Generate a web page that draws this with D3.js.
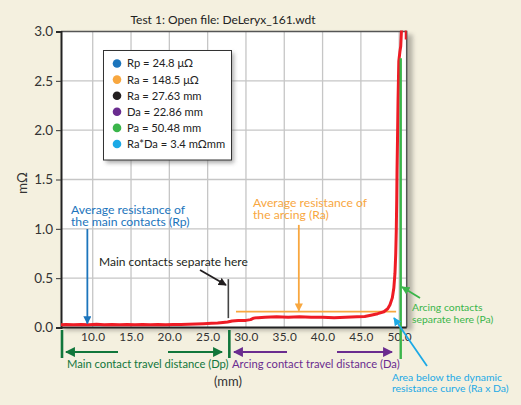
<!DOCTYPE html>
<html>
<head>
<meta charset="utf-8">
<script src="https://cdn.jsdelivr.net/npm/d3@7"></script>
<style>
  body { margin: 0; background: #f4f0df; }
  svg { display: block; font-family: Lato, "Open Sans", sans-serif; }
</style>
</head>
<body>
<div id="canvas"></div>
<script>
const width = 521;
const height = 405;

// the measured dynamic resistance trace (travel mm, mOhm)
const travel = [5.86, 6.5, 7.5, 8.5, 9.5, 10.5, 11.5, 12.5, 13.5, 14.5, 15.5, 16.5, 17.5, 18.5, 19.5,
  20.5, 21.5, 22.5, 23.5, 24.5, 25.5, 26.3, 27.0, 27.6, 28.2, 29.0, 30.0, 30.6, 31.0, 31.6, 32.5,
  34.0, 35.5, 37.0, 38.5, 40.0, 41.5, 43.0, 44.5, 45.5, 46.3, 47.2, 48.0, 48.5, 48.8, 49.1, 49.3,
  49.45, 49.55, 49.62, 49.68, 49.72, 49.78, 49.85, 49.95, 50.1, 50.2, 50.32, 50.92, 50.92];
const resistance = [0.028, 0.030, 0.027, 0.031, 0.029, 0.032, 0.028, 0.030, 0.027, 0.031, 0.029, 0.030, 0.027, 0.030, 0.028,
  0.031, 0.030, 0.033, 0.035, 0.038, 0.042, 0.045, 0.050, 0.055, 0.065, 0.070, 0.072, 0.080, 0.095, 0.100, 0.105,
  0.108, 0.104, 0.110, 0.103, 0.105, 0.100, 0.103, 0.108, 0.112, 0.125, 0.140, 0.160, 0.190, 0.230, 0.300, 0.400,
  0.550, 0.750, 0.980, 1.300, 1.600, 1.900, 2.300, 2.700, 2.800, 2.850, 3.050, 3.050, 2.920];

const xTicks = [10, 15, 20, 25, 30, 35, 40, 45, 50];
const yTicks = [0, 0.5, 1.0, 1.5, 2.0, 2.5, 3.0];

const legendLabels = ["Rp = 24.8 \u03bc\u03a9", "Ra = 148.5 \u03bc\u03a9", "Ra = 27.63 mm",
  "Da = 22.86 mm", "Pa = 50.48 mm", "Ra*Da = 3.4 m\u03a9mm"];
const legendColors = ["#1c75bc", "#f8a73f", "#231f20", "#6a2c8f", "#3ab54a", "#1ba9e6"];

// markers (mm / mOhm)
const rpAt = 9.3;          // blue arrow
const raLevel = 0.16;      // orange average line
const raFrom = 28.7, raTo = 49.6, raArrowAt = 36.9;
const sepAt = 27.7;        // main contacts separate
const paAt = 50.2;         // arcing contacts separate

const svg = d3.select("#canvas")
    .append("svg")
    .attr("width", width)
    .attr("height", height);

const plot = {left: 61, right: 406.7, top: 31.5, bottom: 327.5};

const x = d3.scaleLinear().domain([5.86, 50.98]).range([plot.left, plot.right]);
const y = d3.scaleLinear().domain([0, 3]).range([plot.bottom, plot.top]);

const defs = svg.append("defs");
defs.append("clipPath").attr("id", "clip")
    .append("rect")
    .attr("x", plot.left).attr("y", plot.top - 1)
    .attr("width", plot.right - plot.left).attr("height", plot.bottom - plot.top + 1);
const blur = defs.append("filter").attr("id", "shadow").attr("x", "-20%").attr("y", "-20%")
    .attr("width", "140%").attr("height", "140%");
blur.append("feGaussianBlur").attr("stdDeviation", 2);

function marker(id, color) {
    defs.append("marker")
        .attr("id", id)
        .attr("viewBox", "0 0 10 10")
        .attr("refX", 9).attr("refY", 5)
        .attr("markerWidth", 4.5).attr("markerHeight", 4.5)
        .attr("orient", "auto")
        .append("path")
        .attr("d", "M0,0 L10,5 L0,10 Z")
        .attr("fill", color);
}
marker("a-blue", "#1c75bc");
marker("a-orange", "#f8a73f");
marker("a-black", "#231f20");
marker("a-green", "#3ab54a");
marker("a-dgreen", "#11763b");
marker("a-purple", "#6a2c8f");
marker("a-cyan", "#1ba9e6");

// title
svg.append("text")
    .attr("x", 223).attr("y", 24)
    .attr("text-anchor", "middle")
    .attr("font-size", 12).attr("fill", "#222")
    .text("Test 1: Open file: DeLeryx_161.wdt");

// plot panel with shadow
svg.append("rect")
    .attr("x", plot.left + 3).attr("y", plot.top + 3)
    .attr("width", plot.right - plot.left + 3).attr("height", plot.bottom - plot.top)
    .attr("fill", "#9c9a90").attr("opacity", 0.7)
    .attr("filter", "url(#shadow)");
svg.append("rect")
    .attr("x", plot.left).attr("y", plot.top)
    .attr("width", plot.right - plot.left).attr("height", plot.bottom - plot.top)
    .attr("fill", "#fff");

// grid
svg.append("g").selectAll("line").data(xTicks).join("line")
    .attr("x1", d => x(d)).attr("x2", d => x(d))
    .attr("y1", plot.top).attr("y2", plot.bottom)
    .attr("stroke", "#c6c6c6").attr("stroke-width", 1.3);
svg.append("g").selectAll("line").data(yTicks.slice(1, -1)).join("line")
    .attr("x1", plot.left).attr("x2", plot.right)
    .attr("y1", d => y(d)).attr("y2", d => y(d))
    .attr("stroke", "#c6c6c6").attr("stroke-width", 1.3);

// frame
svg.append("path")
    .attr("d", `M${plot.left},${plot.top}H${plot.right}V${plot.bottom}`)
    .attr("fill", "none").attr("stroke", "#555").attr("stroke-width", 1.5);

// axes
const yAxis = d3.axisLeft(y).tickValues(yTicks).tickFormat(d3.format(".1f")).tickSize(5).tickPadding(3);
const gy = svg.append("g").attr("transform", `translate(${plot.left},0)`).call(yAxis);
gy.select(".domain").attr("stroke", "#222").attr("stroke-width", 2);
gy.selectAll(".tick line").attr("stroke", "#333");
gy.selectAll(".tick text").attr("font-size", 13.5).attr("fill", "#333")
    .attr("font-family", "Lato, 'Open Sans', sans-serif");

const xAxis = d3.axisBottom(x).tickValues(xTicks).tickFormat(d3.format(".1f")).tickSize(0).tickPadding(5);
const gx = svg.append("g").attr("transform", `translate(0,${plot.bottom})`).call(xAxis);
gx.select(".domain").attr("stroke", "#222").attr("stroke-width", 2).attr("d", `M${plot.left},0H${plot.right}`);
gx.selectAll(".tick text").attr("font-size", 11.8).attr("fill", "#333")
    .attr("letter-spacing", 0.3)
    .attr("font-family", "Lato, 'Open Sans', sans-serif");

svg.append("text")
    .attr("transform", "translate(27,183) rotate(-90)")
    .attr("text-anchor", "middle")
    .attr("font-size", 13.5).attr("fill", "#333")
    .text("m\u03a9");

svg.append("text")
    .attr("x", 228).attr("y", 386)
    .attr("text-anchor", "middle")
    .attr("font-size", 13).attr("fill", "#333")
    .text("(mm)");

// orange average line + arrow
svg.append("line")
    .attr("x1", x(raFrom)).attr("x2", x(raTo))
    .attr("y1", y(raLevel)).attr("y2", y(raLevel))
    .attr("stroke", "#f8a73f").attr("stroke-width", 1.8);
svg.append("line")
    .attr("x1", x(raArrowAt)).attr("x2", x(raArrowAt))
    .attr("y1", y(1.04)).attr("y2", y(raLevel) - 1)
    .attr("stroke", "#f8a73f").attr("stroke-width", 1.8)
    .attr("marker-end", "url(#a-orange)");

// the trace
const trace = d3.zip(travel, resistance);
svg.append("path")
    .datum(trace)
    .attr("clip-path", "url(#clip)")
    .attr("fill", "none")
    .attr("stroke", "#ee1c25")
    .attr("stroke-width", 3)
    .attr("stroke-linejoin", "round")
    .attr("d", d3.line().x(d => x(d[0])).y(d => y(d[1])));

// Pa line
svg.append("line")
    .attr("x1", x(paAt)).attr("x2", x(paAt))
    .attr("y1", y(2.73)).attr("y2", 359)
    .attr("stroke", "#3ab54a").attr("stroke-width", 2.4);

// main contacts separate marker
svg.append("line")
    .attr("x1", x(sepAt)).attr("x2", x(sepAt))
    .attr("y1", y(0.49)).attr("y2", y(0.095))
    .attr("stroke", "#444").attr("stroke-width", 1.6);

// blue Rp arrow
svg.append("line")
    .attr("x1", x(rpAt)).attr("x2", x(rpAt))
    .attr("y1", 229).attr("y2", y(0.04))
    .attr("stroke", "#1c75bc").attr("stroke-width", 1.8)
    .attr("marker-end", "url(#a-blue)");

// legend
const lg = svg.append("g");
lg.append("rect")
    .attr("x", 106).attr("y", 53).attr("width", 128).attr("height", 110)
    .attr("fill", "#777").attr("opacity", 0.6).attr("filter", "url(#shadow)");
lg.append("rect")
    .attr("x", 103.5).attr("y", 50.5).attr("width", 128).attr("height", 109.5)
    .attr("fill", "#fff").attr("stroke", "#333").attr("stroke-width", 1);
const items = lg.selectAll("g.item").data(legendLabels).join("g")
    .attr("transform", (d, i) => `translate(117,${63.5 + i * 16.1})`);
items.append("circle").attr("r", 4.3).attr("fill", (d, i) => legendColors[i]);
items.append("text")
    .attr("x", 10).attr("dy", "0.35em")
    .attr("font-size", 11.2).attr("fill", "#222")
    .text(d => d);

// annotation text
function note(lines, px, py, color, size, gap = 12) {
    const t = svg.append("text").attr("font-size", size).attr("fill", color);
    lines.forEach((s, i) => t.append("tspan").attr("x", px).attr("y", py + i * gap).text(s));
}
note(["Average resistance of", "the main contacts (Rp)"], 71, 213.5, "#1c75bc", 12.2, 12.3);
note(["Average resistance of", "the arcing (Ra)"], 253, 206.5, "#f8a73f", 12.2, 12.3);
note(["Main contacts separate here"], 99, 266, "#231f20", 12);
note(["Arcing contacts", "separate here (Pa)"], 412, 310.5, "#3ab54a", 10.4, 12);
note(["Area below the dynamic", "resistance curve (Ra x Da)"], 392, 380.5, "#1ba9e6", 10.4, 11.3);
note(["Main contact travel distance (Dp)"], 67, 368, "#11763b", 11.2);
note(["Arcing contact travel distance (Da)"], 232, 368, "#6a2c8f", 11.2);

// pointer arrows
function arrow(x1, y1, x2, y2, color, id, w) {
    svg.append("line")
        .attr("x1", x1).attr("y1", y1).attr("x2", x2).attr("y2", y2)
        .attr("stroke", color).attr("stroke-width", w || 1.8)
        .attr("marker-end", `url(#${id})`);
}
arrow(200, 270, 226, 285, "#231f20", "a-black");
arrow(420, 298, 402, 287, "#3ab54a", "a-green");
arrow(427, 366, 394, 318, "#1ba9e6", "a-cyan");

// travel distance brackets
[5.86, sepAt].forEach(v => {
    svg.append("line")
        .attr("x1", x(v) + 1).attr("x2", x(v) + 1)
        .attr("y1", 330).attr("y2", 358)
        .attr("stroke", "#11763b").attr("stroke-width", 2.6);
});
arrow(118, 352, 66, 352, "#11763b", "a-dgreen", 2.2);
arrow(168, 352, 222, 352, "#11763b", "a-dgreen", 2.2);
arrow(287, 352, 234, 352, "#6a2c8f", "a-purple", 2.2);
arrow(337, 352, 392, 352, "#6a2c8f", "a-purple", 2.2);
</script>
</body>
</html>
